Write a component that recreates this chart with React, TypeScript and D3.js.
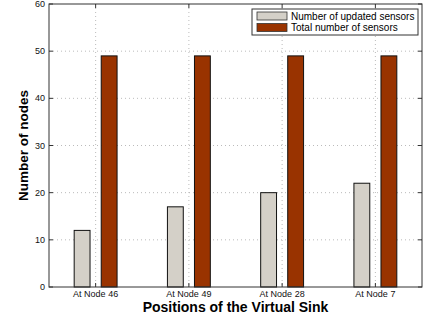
import React from "react";
import * as d3 from "d3";

const categories = ["At Node 46", "At Node 49", "At Node 28", "At Node 7"];
const updatedSensors = [12, 17, 20, 22];
const totalSensors = [49, 49, 49, 49];
const yTicks = [0, 10, 20, 30, 40, 50, 60];
const seriesNames = ["Number of updated sensors", "Total number of sensors"];

const W = 432, H = 320;
const m = { left: 49, right: 10, top: 4, bottom: 33 };
const font = "Liberation Sans, Arial, sans-serif";
const grayColor = "#d4d0c8";
const brownColor = "#993300";

export default function App() {
  const x = d3.scaleLinear().domain([0.5, categories.length + 0.5]).range([m.left, W - m.right]);
  const y = d3.scaleLinear().domain([0, 60]).range([H - m.bottom, m.top]);
  const unit = x(2) - x(1);
  const bw = 0.17 * unit;
  const off = 0.145 * unit;
  const x0 = m.left, x1 = W - m.right, y0 = H - m.bottom, y1 = m.top;
  const series = [
    { vals: updatedSensors, color: grayColor, dx: -off },
    { vals: totalSensors, color: brownColor, dx: off },
  ];
  return (
    <svg width={W} height={H} style={{ position: "absolute", left: 0, top: 0, background: "#fff" }} fontFamily={font}>
      <rect x={0} y={0} width={W} height={H} fill="#fff" />
      {yTicks.slice(1, -1).map((t) => (
        <line key={"gy" + t} x1={x0} x2={x1} y1={y(t)} y2={y(t)} stroke="#aaa" strokeWidth={0.8} strokeDasharray="1,3" />
      ))}
      {categories.map((c, i) => (
        <line key={"gx" + i} x1={x(i + 1)} x2={x(i + 1)} y1={y1} y2={y0} stroke="#aaa" strokeWidth={0.8} strokeDasharray="1,3" />
      ))}
      {series.map((s, si) =>
        s.vals.map((v, i) => (
          <rect key={si + "-" + i} x={x(i + 1) + s.dx - bw / 2} y={y(v)} width={bw} height={y(0) - y(v)} fill={s.color} stroke="#111" strokeWidth={1} />
        ))
      )}
      <rect x={x0} y={y1} width={x1 - x0} height={y0 - y1} fill="none" stroke="#333" strokeWidth={1} />
      {yTicks.map((t) => (
        <g key={"yt" + t}>
          <line x1={x0} x2={x0 + 4} y1={y(t)} y2={y(t)} stroke="#333" />
          <line x1={x1} x2={x1 - 4} y1={y(t)} y2={y(t)} stroke="#333" />
          <text x={x0 - 4} y={y(t)} dy="0.35em" textAnchor="end" fontSize={9} fill="#111">{t}</text>
        </g>
      ))}
      {categories.map((c, i) => (
        <g key={"xt" + i}>
          <line x1={x(i + 1)} x2={x(i + 1)} y1={y0} y2={y0 - 4} stroke="#333" />
          <line x1={x(i + 1)} x2={x(i + 1)} y1={y1} y2={y1 + 4} stroke="#333" />
          <text x={x(i + 1)} y={y0 + 10} textAnchor="middle" fontSize={9} fill="#111">{c}</text>
        </g>
      ))}
      <text x={(x0 + x1) / 2} y={312} textAnchor="middle" fontSize={14} fontWeight="bold" fill="#000">Positions of the Virtual Sink</text>
      <text transform={`translate(28,${(y0 + y1) / 2}) rotate(-90)`} textAnchor="middle" fontSize={13.5} fontWeight="bold" fill="#000">Number of nodes</text>
      <g>
        <rect x={252} y={9} width={166} height={26} fill="#fff" stroke="#333" strokeWidth={1} />
        {seriesNames.map((n, i) => (
          <g key={n}>
            <rect x={257} y={12 + i * 11.5} width={30} height={8} fill={i === 0 ? grayColor : brownColor} stroke="#333" strokeWidth={0.8} />
            <text x={291} y={16 + i * 11.5} dy="0.35em" fontSize={10} fill="#000">{n}</text>
          </g>
        ))}
      </g>
    </svg>
  );
}
